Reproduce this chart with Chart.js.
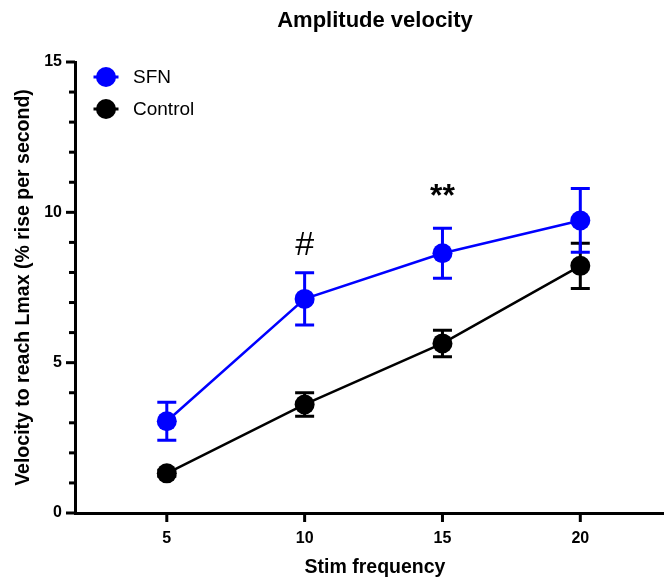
<!DOCTYPE html>
<html>
<head>
<meta charset="utf-8">
<script src="https://cdn.jsdelivr.net/npm/chart.js@4/dist/chart.umd.min.js"></script>
<style>
html,body{margin:0;padding:0;background:#fff;}
#wrap{width:665px;height:581px;}
</style>
</head>
<body>
<div id="wrap"><canvas id="c" width="665" height="581"></canvas></div>
<script>
const stimFrequency = [5, 10, 15, 20];
const sfnMean = [3.05, 7.12, 8.64, 9.73];
const sfnErr = [0.63, 0.87, 0.83, 1.06];
const controlMean = [1.32, 3.61, 5.64, 8.22];
const controlErr = [0.10, 0.39, 0.44, 0.75];
const yTickLabels = [0, 5, 10, 15];
const annotations = [
  {x: 10, y: 8.88, text: '#'},
  {x: 15, y: 10.5, text: '**'}
];
const chartTitle = 'Amplitude velocity';
const xAxisTitle = 'Stim frequency';
const yAxisTitle = 'Velocity to reach Lmax (% rise per second)';

const FONT = '"Liberation Sans", Arial, sans-serif';

const errorBarPlugin = {
  id: 'errorBars',
  beforeDatasetDraw(chart, args) {
    const ds = chart.data.datasets[args.index];
    if (!ds.errors) return;
    const xs = chart.scales.x, ys = chart.scales.y;
    const ctx = chart.ctx;
    ctx.save();
    ctx.strokeStyle = ds.borderColor;
    ctx.lineWidth = 3;
    ds.data.forEach((p, i) => {
      const e = ds.errors[i];
      const px = xs.getPixelForValue(p.x);
      const top = ys.getPixelForValue(p.y + e);
      const bot = ys.getPixelForValue(p.y - e);
      ctx.beginPath();
      ctx.moveTo(px, top); ctx.lineTo(px, bot);
      ctx.moveTo(px - 9.5, top); ctx.lineTo(px + 9.5, top);
      ctx.moveTo(px - 9.5, bot); ctx.lineTo(px + 9.5, bot);
      ctx.stroke();
    });
    ctx.restore();
  }
};

const decorPlugin = {
  id: 'decor',
  afterDraw(chart) {
    const ctx = chart.ctx;
    const xs = chart.scales.x, ys = chart.scales.y;
    const area = chart.chartArea;
    ctx.save();
    ctx.strokeStyle = '#000';
    ctx.lineWidth = 3;
    for (let v = 0; v <= 15; v++) {
      const py = ys.getPixelForValue(v);
      const len = (v % 5 === 0) ? 9 : 6;
      ctx.beginPath();
      ctx.moveTo(area.left, py);
      ctx.lineTo(area.left - len, py);
      ctx.stroke();
    }
    stimFrequency.forEach(f => {
      const px = xs.getPixelForValue(f);
      ctx.beginPath();
      ctx.moveTo(px, area.bottom);
      ctx.lineTo(px, area.bottom + 9);
      ctx.stroke();
    });
    const cx0 = (area.left + area.right) / 2 + 6;
    ctx.fillStyle = '#000';
    ctx.font = 'bold 22px ' + FONT;
    ctx.textAlign = 'center';
    ctx.textBaseline = 'middle';
    ctx.fillText(chartTitle, cx0, 21);
    ctx.font = 'bold 19.5px ' + FONT;
    ctx.fillText(xAxisTitle, cx0, 568);
    annotations.forEach(a => {
      ctx.font = (a.text === '#' ? '34px ' : 'bold 32px ') + FONT;
      ctx.textAlign = 'center';
      ctx.textBaseline = 'middle';
      ctx.fillText(a.text, xs.getPixelForValue(a.x), ys.getPixelForValue(a.y));
    });
    const items = [chart.data.datasets[0], chart.data.datasets[1]];
    items.forEach((ds, i) => {
      const cy = 77 + i * 32;
      const cx = 106;
      ctx.strokeStyle = ds.borderColor;
      ctx.fillStyle = ds.backgroundColor;
      ctx.lineWidth = 3;
      ctx.beginPath();
      ctx.moveTo(cx - 12.5, cy); ctx.lineTo(cx + 12.5, cy);
      ctx.stroke();
      ctx.beginPath();
      ctx.arc(cx, cy, 10, 0, Math.PI * 2);
      ctx.fill();
      ctx.fillStyle = '#000';
      ctx.font = '19px ' + FONT;
      ctx.textAlign = 'left';
      ctx.textBaseline = 'middle';
      ctx.fillText(ds.label, 133, cy + 1);
    });
    ctx.restore();
  }
};

new Chart(document.getElementById('c'), {
  type: 'line',
  data: {
    datasets: [
      {
        label: 'SFN',
        data: stimFrequency.map((f, i) => ({x: f, y: sfnMean[i]})),
        errors: sfnErr,
        borderColor: '#0000ff',
        backgroundColor: '#0000ff',
        borderWidth: 2.5,
        pointRadius: 10,
        pointBorderWidth: 0,
        pointHoverRadius: 10,
        order: 0
      },
      {
        label: 'Control',
        data: stimFrequency.map((f, i) => ({x: f, y: controlMean[i]})),
        errors: controlErr,
        borderColor: '#000000',
        backgroundColor: '#000000',
        borderWidth: 2.5,
        pointRadius: 10,
        pointBorderWidth: 0,
        pointHoverRadius: 10,
        order: 1
      }
    ]
  },
  options: {
    responsive: false,
    animation: false,
    events: [],
    layout: {autoPadding: false, padding: {top: 62, right: 2, left: 0, bottom: 0}},
    plugins: {legend: {display: false}, title: {display: false}, tooltip: {enabled: false}},
    scales: {
      x: {
        type: 'linear',
        min: 1.67,
        max: 23,
        afterBuildTicks: s => { s.ticks = stimFrequency.map(v => ({value: v})); },
        afterFit: s => { s.height = 68; s.paddingLeft = 0; s.paddingRight = 0; },
        grid: {display: false},
        border: {display: true, color: '#000', width: 3},
        ticks: {color: '#000', font: {family: FONT, size: 16, weight: 'bold'}, padding: 8, maxRotation: 0},
        title: {display: false}
      },
      y: {
        type: 'linear',
        min: 0,
        max: 15,
        afterBuildTicks: s => { s.ticks = yTickLabels.map(v => ({value: v})); },
        afterFit: s => { s.width = 75; },
        grid: {display: false},
        border: {display: true, color: '#000', width: 3},
        ticks: {color: '#000', font: {family: FONT, size: 16, weight: 'bold'}, padding: 5},
        title: {display: true, text: yAxisTitle, color: '#000', font: {family: FONT, size: 19.5, weight: 'bold'}, padding: {top: 11.5, bottom: 0}}
      }
    }
  },
  plugins: [errorBarPlugin, decorPlugin]
});
</script>
</body>
</html>
